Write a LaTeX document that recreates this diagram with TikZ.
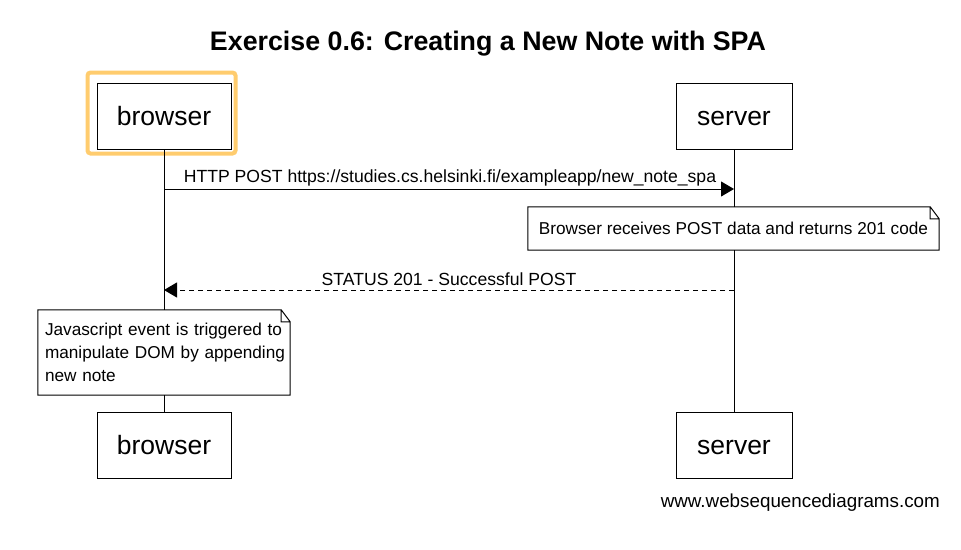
\documentclass[tikz,border=0pt]{standalone}
\usepackage{fontspec}
\setmainfont{Liberation Sans}
\usetikzlibrary{arrows.meta, fit}
\definecolor{hiorange}{RGB}{255,204,110}
\tikzstyle{actor} = [draw, line width=1pt, fill=white, minimum height=66pt, inner sep=0pt, text height=19pt, text depth=0pt, font=\fontsize{26.5}{30}\selectfont]
\tikzstyle{note} = [fill=white, inner sep=7pt, font=\fontsize{17.2}{23}\selectfont]
\tikzstyle{msg} = [line width=1pt, -{Triangle[length=13pt, width=15pt]}]
\tikzstyle{reply} = [msg, dash pattern=on 5pt off 4pt]
\tikzstyle{lbl} = [inner sep=0pt, font=\fontsize{17.6}{20}\selectfont]
\tikzstyle{hilite} = [draw=hiorange, line width=4pt, rounded corners=3pt]

\begin{document}
\begin{tikzpicture}[x=1pt, y=-1pt]
    \useasboundingbox (0,0) rectangle (961,549);
    \node[font=\bfseries\fontsize{26.8}{30}\selectfont] (title) at (488,44) {Exercise 0.6: Creating a New Note with SPA};

    % actors, top and bottom
    \foreach \n/\t/\x/\w in {b/browser/164/134, s/server/734/116} {
        \node[actor, minimum width=\w pt] (\n1) at (\x,116) {\t};
        \node[actor, minimum width=\w pt] (\n2) at (\x,445) {\t};
    }
    \draw[hilite] ([xshift=-9pt, yshift=10pt]b1.north west) rectangle ([xshift=4pt, yshift=-4pt]b1.south east);

    % lifelines
    \draw[line width=1pt] (b1) -- (b2);
    \draw[line width=1pt] (s1) -- (s2);

    % messages
    \coordinate (m1b) at (b1 |- 0,189);
    \coordinate (m1s) at (s1 |- 0,189);
    \draw[msg] (m1b) -- (m1s);
    \node[lbl] (l1) at (450,178) {HTTP POST https://studies.cs.helsinki.fi/exampleapp/new\_note\_spa};

    \coordinate (m2s) at (s1 |- 0,290);
    \coordinate (m2b) at (b1 |- 0,290);
    \draw[reply] (m2s) -- (m2b);
    \node[lbl] (l2) at (449,279) {STATUS 201 - Successful POST};

    % notes
    \node[note, minimum width=411pt, minimum height=43pt] (n1) at (733.5,228.5) {Browser receives POST data and returns 201 code};
    \node[note, minimum width=252pt, minimum height=85pt, text width=238pt, align=left] (n2) at (164,352.5) {\mbox{Javascript event is triggered to}\\\mbox{manipulate DOM by appending}\\new note};
    \foreach \n in {n1, n2}
    \draw[line width=1pt] (\n.south west) -- (\n.north west) -- ([xshift=-9pt]\n.north east) -- ([yshift=-12pt]\n.north east) -- (\n.south east) -- cycle
        ([xshift=-9pt]\n.north east) -- ([xshift=-9pt, yshift=-12pt]\n.north east) -- ([yshift=-12pt]\n.north east);

    \node[lbl, anchor=east, font=\fontsize{18.8}{21}\selectfont] (wsd) at (940,503) {www.websequencediagrams.com};
\end{tikzpicture}
\end{document}
